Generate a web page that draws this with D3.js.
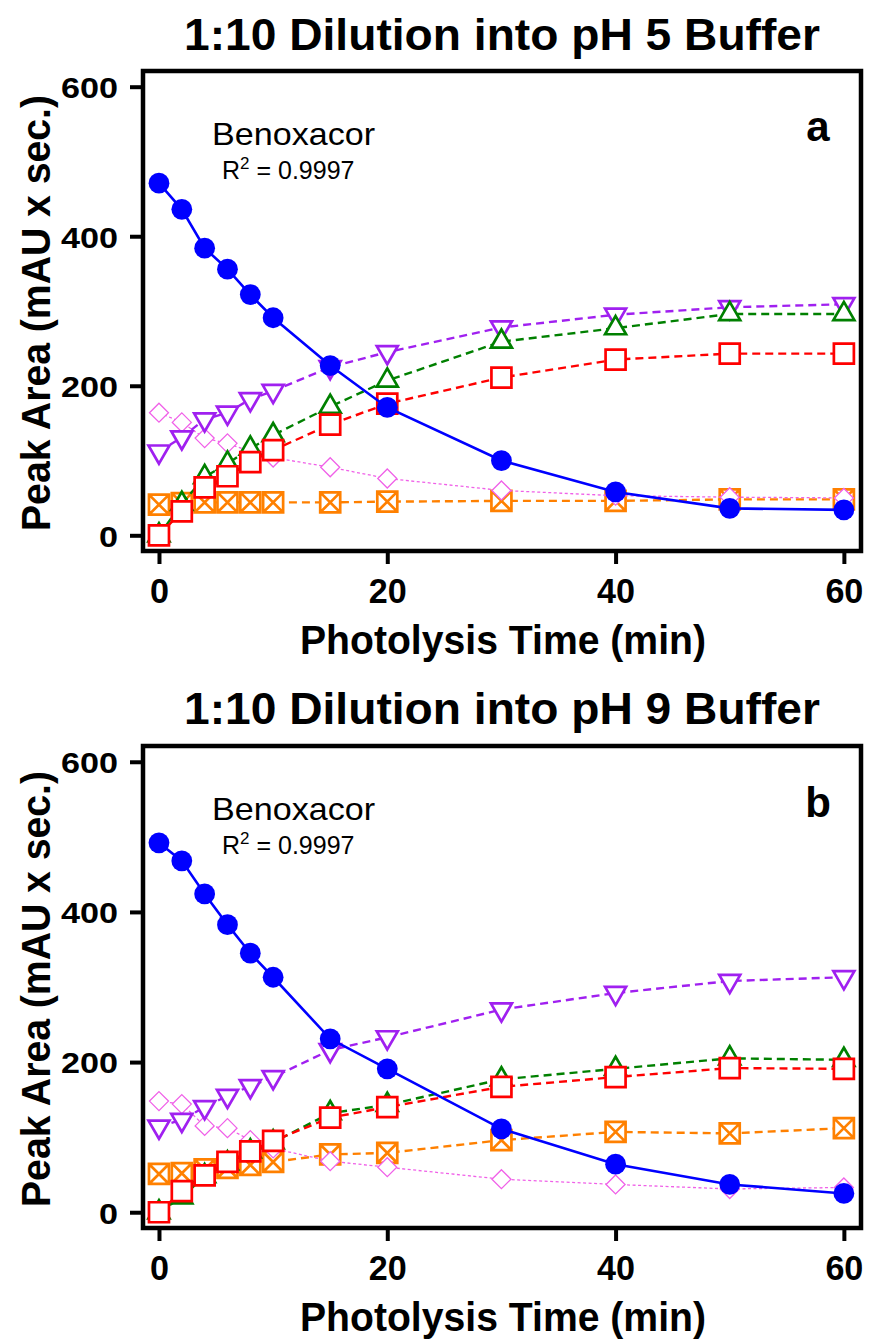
<!DOCTYPE html>
<html><head><meta charset="utf-8">
<script src="https://cdn.jsdelivr.net/npm/d3@7"></script>
<style>body{margin:0;background:#fff} svg{display:block}</style>
</head><body>
<svg id="c" width="869" height="1339"></svg>
<script>
// ---------------- data ----------------
const times = [0, 2, 4, 6, 8, 10, 15, 20, 30, 40, 50, 60];
const xTicks = [0, 20, 40, 60];
const yTicks = [0, 200, 400, 600];
const titles = ["1:10 Dilution into pH 5 Buffer", "1:10 Dilution into pH 9 Buffer"];
const panelLetters = ["a", "b"];
const xTitle = "Photolysis Time (min)";
const yTitle = "Peak Area (mAU x sec.)";
const compoundName = "Benoxacor";
const r2Text = " = 0.9997";

// panel a (pH 5)
const benoxA  = [471, 436, 384, 356, 322, 291, 227, 171, 100, 58, 36, 34];
const purpleA = [112, 131, 155, 164, 182, 193, 225, 245, 278, 295, 305, 309];
const greenA  = [0, 42, 78, 96, 116, 134, 172, 207, 259, 277, 296, 296];
const redA    = [0, 32, 64, 79, 98, 114, 148, 176, 211, 235, 243, 243];
const orangeA = [41, 43, 44, 44, 44, 44, 44, 45, 46, 46, 48, 48];
const pinkA   = [164, 151, 130, 123, 112, 104, 91, 76, 60, 53, 51, 50];

// panel b (pH 9)
const benoxB  = [492, 468, 424, 383, 345, 313, 231, 191, 111, 64, 37, 25];
const purpleB = [114, 123, 140, 155, 168, 180, 216, 233, 270, 292, 308, 313];
const greenB  = [0, 20, 48, 65, 81, 93, 132, 143, 177, 191, 205, 203];
const redB    = [0, 28, 49, 67, 81, 95, 126, 140, 167, 180, 192, 191];
const orangeB = [51, 52, 57, 59, 63, 67, 77, 79, 96, 107, 105, 112];
const pinkB   = [148, 144, 115, 112, 96, 85, 68, 60, 44, 37, 31, 33];

// ---------------- drawing ----------------
const svg = d3.select("#c");
const FONT = "'Liberation Sans', Arial, Helvetica, sans-serif";

const styles = {
  orange: {color: "#ff8000", dash: "8,5", lw: 2.4, marker: "xsquare"},
  pink:   {color: "#f060e8", dash: "3,2.5", lw: 1.3, marker: "diamond"},
  purple: {color: "#a020f0", dash: "8,5", lw: 2.4, marker: "down"},
  green:  {color: "#008000", dash: "8,5", lw: 2.4, marker: "up"},
  red:    {color: "#ff0000", dash: "8,5", lw: 2.4, marker: "square"},
  blue:   {color: "#0000ff", dash: null, lw: 2.6, marker: "circle"}
};

const panels = [
  {top: 71, bottom: 551, titleY: 50, series: {orange: orangeA, pink: pinkA, purple: purpleA, green: greenA, red: redA, blue: benoxA}},
  {top: 746, bottom: 1228, titleY: 724, series: {orange: orangeB, pink: pinkB, purple: purpleB, green: greenB, red: redB, blue: benoxB}}
];

const x = d3.scaleLinear().domain([-1.4, 61.5]).range([143, 861]);

function fit(sel, w) {
  sel.attr("textLength", w).attr("lengthAdjust", "spacingAndGlyphs");
}

function markerPath(type) {
  if (type === "circle") return d3.symbol(d3.symbolCircle, Math.PI * 10.4 * 10.4)();
  if (type === "square" || type === "xsquare") {
    const h = 10;
    let p = `M${-h},${-h}L${h},${-h}L${h},${h}L${-h},${h}Z`;
    if (type === "xsquare") p += `M${-h},${-h}L${h},${h}M${h},${-h}L${-h},${h}`;
    return p;
  }
  if (type === "up") {
    const s = 21, hgt = s * Math.sqrt(3) / 2;
    return `M0,${-2 * hgt / 3}L${s / 2},${hgt / 3}L${-s / 2},${hgt / 3}Z`;
  }
  if (type === "down") {
    const s = 21, hgt = s * Math.sqrt(3) / 2;
    return `M0,${2 * hgt / 3}L${s / 2},${-hgt / 3}L${-s / 2},${-hgt / 3}Z`;
  }
  if (type === "diamond") {
    const h = 9.5;
    return `M0,${-h}L${h},0L0,${h}L${-h},0Z`;
  }
}

panels.forEach((p, i) => {
  const y = d3.scaleLinear().domain([-21, 621]).range([p.bottom, p.top]);
  const g = svg.append("g");

  // title
  g.append("text").attr("x", 502).attr("y", p.titleY).attr("text-anchor", "middle")
    .attr("font-family", FONT).attr("font-weight", "bold").attr("font-size", 45)
    .text(titles[i]).call(fit, 636);

  // series
  Object.keys(p.series).forEach(key => {
    const st = styles[key];
    const vals = p.series[key];
    const pts = times.map((t, j) => ({t, v: vals[j]}));
    const line = d3.line().x(d => x(d.t)).y(d => y(d.v));
    g.append("path").datum(pts).attr("d", line).attr("fill", "none")
      .attr("stroke", st.color).attr("stroke-width", st.lw)
      .attr("stroke-dasharray", st.dash);
    const mp = markerPath(st.marker);
    g.selectAll(null).data(pts).enter().append("path")
      .attr("transform", d => `translate(${x(d.t)},${y(d.v)})`)
      .attr("d", mp)
      .attr("fill", st.marker === "circle" ? st.color : "#fff")
      .attr("stroke", st.color)
      .attr("stroke-width", st.marker === "circle" ? 0 : (st.marker === "diamond" ? 1.3 : 2.7));
  });

  // frame
  g.append("rect").attr("x", 143).attr("y", p.top).attr("width", 718)
    .attr("height", p.bottom - p.top).attr("fill", "none")
    .attr("stroke", "#000").attr("stroke-width", 4.5);

  // axes
  const ax = g.append("g").attr("transform", `translate(0,${p.bottom + 2})`)
    .call(d3.axisBottom(x).tickValues(xTicks).tickSize(11).tickFormat(d3.format("d")));
  ax.select(".domain").remove();
  ax.selectAll(".tick line").attr("stroke", "#000").attr("stroke-width", 4);
  ax.selectAll(".tick text").attr("y", 50).attr("dy", null)
    .attr("font-family", FONT).attr("font-weight", "bold").attr("font-size", 35).attr("fill", "#000")
    .each(function(d) { d3.select(this).call(fit, String(d).length * 19); });

  const ay = g.append("g").attr("transform", `translate(141,0)`)
    .call(d3.axisLeft(y).tickValues(yTicks).tickSize(11).tickFormat(d3.format("d")));
  ay.select(".domain").remove();
  ay.selectAll(".tick line").attr("stroke", "#000").attr("stroke-width", 4);
  ay.selectAll(".tick text").attr("x", -23).attr("dy", "0.36em")
    .attr("font-family", FONT).attr("font-weight", "bold").attr("font-size", 30).attr("fill", "#000")
    .each(function(d) { d3.select(this).call(fit, String(d).length * 19); });

  // axis titles
  g.append("text").attr("x", 503).attr("y", p.bottom + 103).attr("text-anchor", "middle")
    .attr("font-family", FONT).attr("font-weight", "bold").attr("font-size", 40)
    .text(xTitle).call(fit, 406);
  const yc = (y(600) + y(0)) / 2 + 2;
  g.append("text").attr("transform", `translate(50,${yc}) rotate(-90)`).attr("text-anchor", "middle")
    .attr("font-family", FONT).attr("font-weight", "bold").attr("font-size", 40)
    .text(yTitle).call(fit, 436);

  // annotations
  const off = p.top - 71;
  g.append("text").attr("x", 212).attr("y", 145 + off)
    .attr("font-family", FONT).attr("font-size", 32).text(compoundName).call(fit, 163);
  const r2 = g.append("text").attr("x", 222).attr("y", 179 + off)
    .attr("font-family", FONT).attr("font-size", 25);
  r2.append("tspan").text("R");
  r2.append("tspan").attr("font-size", 17).attr("dy", -10).text("2");
  r2.append("tspan").attr("dy", 10).text(r2Text);

  g.append("text").attr("x", 818).attr("y", (i === 0 ? 141 : 817)).attr("text-anchor", "middle")
    .attr("font-family", FONT).attr("font-weight", "bold").attr("font-size", 42).text(panelLetters[i]);
});
</script>
</body></html>
